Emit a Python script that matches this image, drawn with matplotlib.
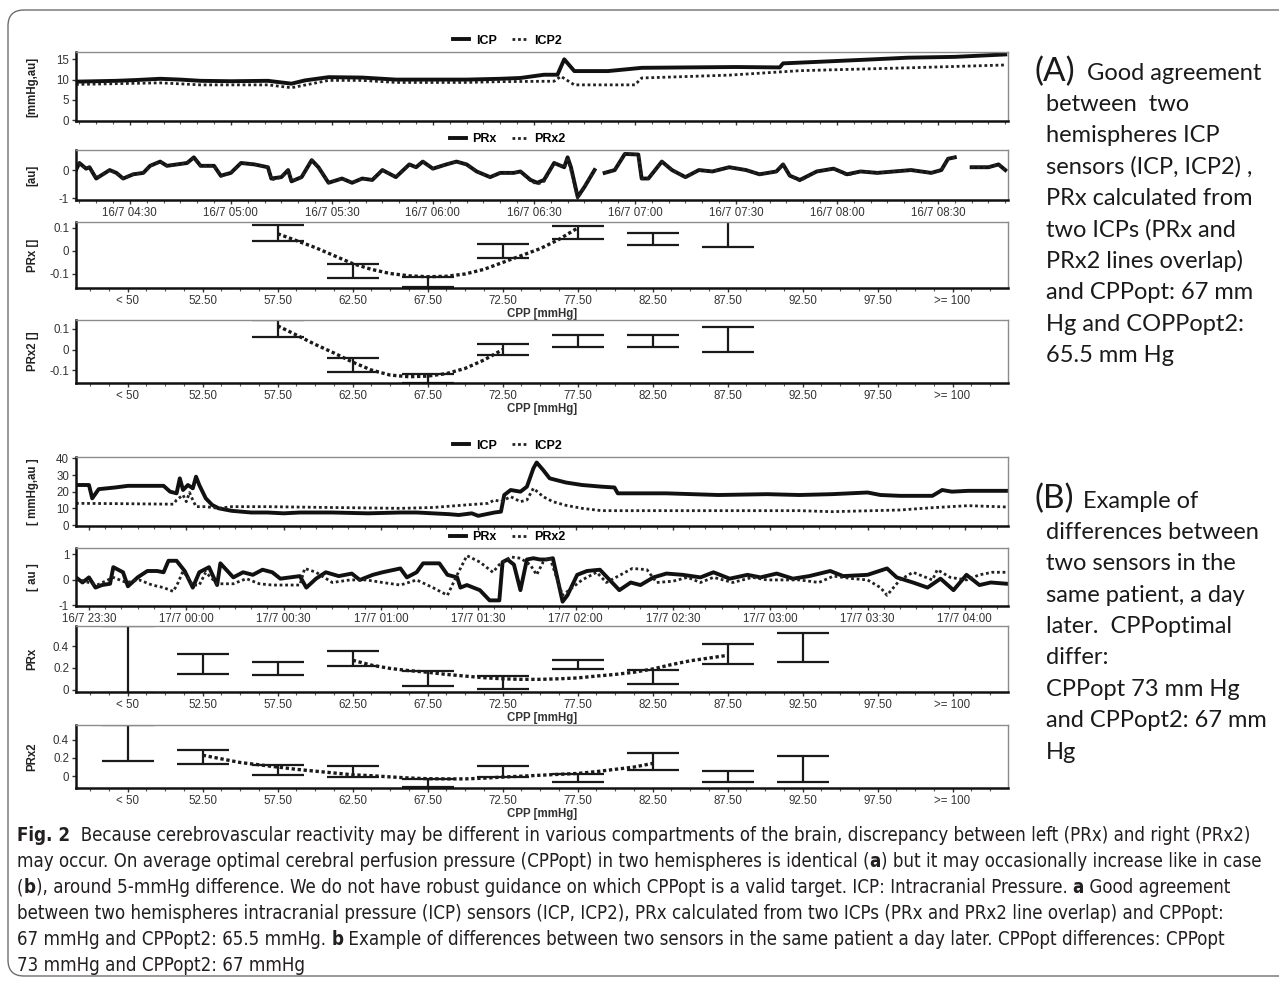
import numpy as np
import matplotlib
import matplotlib.pyplot as plt
from matplotlib import font_manager
from matplotlib.patches import FancyBboxPatch
from matplotlib.transforms import IdentityTransform
from matplotlib.ticker import FixedLocator, MultipleLocator

plt.rcParams['font.family'] = ['Liberation Sans', 'DejaVu Sans']

# ---------------- data (a): time series, minutes after 16/7 04:00 ----------------
icpA_t = [14, 20, 26, 32, 39, 45, 51, 60, 71, 78, 82, 89, 99, 109, 120, 130, 140, 146, 153, 157,
          159, 162, 172, 182, 195, 210, 223, 224, 235, 251, 261, 275, 290]
icpA = [9.5, 9.6, 9.7, 9.9, 10.2, 10.0, 9.7, 9.6, 9.7, 9.0, 9.8, 10.6, 10.5, 10.0, 10.0, 10.0, 10.2,
        10.4, 11.2, 11.2, 15.0, 12.1, 12.1, 12.9, 13.0, 13.1, 13.0, 14.0, 14.4, 15.0, 15.4, 15.6, 16.2]
icp2A_t = [14, 26, 39, 51, 71, 78, 89, 99, 109, 130, 140, 156, 158, 162, 180, 182, 208, 229, 261, 290]
icp2A = [8.8, 9.0, 9.2, 8.7, 8.7, 8.0, 9.8, 9.8, 9.3, 9.3, 9.5, 9.6, 10.8, 8.7, 8.7, 10.4, 11.1, 12.2, 12.9, 13.6]

prxA_t = [14, 15, 17, 18, 20, 22, 24, 26, 28, 31, 34, 36, 39, 41, 44, 47, 49, 51, 55, 57,
          60, 63, 67, 71, 72, 75, 77, 78, 81, 84, 86, 89, 93, 96, 99, 102, 105, 109, 113, 115,
          117, 120, 124, 127, 130, 133, 137, 140, 144, 146, 149, 151, 153, 156, 159, 160, 161, 163, 165, 168,
          169.5, 171, 174, 177, 181, 182, 184, 188, 191, 195, 199, 203, 208, 213, 217, 222, 224, 226, 229, 234,
          239, 243, 247, 252, 257, 262, 268, 271, 273, 275, 277, 280, 285, 288, 290]
prxA = [0.0, 0.25, 0.05, 0.1, -0.3, -0.15, 0.0, -0.1, -0.3, -0.15, -0.1, 0.15, 0.3, 0.15, 0.2, 0.25, 0.45, 0.15, 0.15, -0.2,
        -0.1, 0.25, 0.2, 0.1, -0.3, -0.25, 0.0, -0.4, -0.25, 0.35, 0.1, -0.45, -0.3, -0.45, -0.3, -0.35, 0.0, -0.25, 0.2, 0.1,
        0.3, 0.05, 0.2, 0.3, 0.2, -0.05, -0.25, -0.1, -0.1, -0.05, -0.35, -0.45, -0.35, 0.25, 0.1, 0.45, 0.1, -0.95, -0.6, 0.0,
        np.nan, -0.1, 0.0, 0.57, 0.55, -0.3, -0.3, 0.3, 0.0, -0.25, 0.0, -0.05, 0.1, 0.0, -0.15, -0.05, 0.2, -0.2, -0.35, -0.05,
        0.05, -0.15, -0.05, -0.1, -0.05, 0.0, -0.1, 0.0, 0.4, 0.45, np.nan, 0.1, 0.1, 0.2, 0.0]
prx2A = [0.0, 0.22, 0.05, 0.1, -0.28, -0.15, 0.0, -0.12, -0.3, -0.15, -0.1, 0.15, 0.3, 0.15, 0.2, 0.25, 0.43, 0.15, 0.15, -0.22,
         -0.1, 0.25, 0.2, 0.1, -0.35, -0.25, 0.0, -0.4, -0.25, 0.35, 0.1, -0.45, -0.3, -0.45, -0.3, -0.35, 0.0, -0.25, 0.2, 0.1,
         0.3, 0.05, 0.2, 0.3, 0.2, -0.05, -0.25, -0.1, -0.1, -0.05, -0.38, -0.5, -0.4, 0.25, 0.1, 0.45, 0.0, -1.0, -0.6, 0.0,
         np.nan, -0.1, 0.0, 0.57, 0.55, -0.3, -0.3, 0.3, 0.0, -0.25, 0.0, -0.05, 0.1, 0.0, -0.15, -0.05, 0.2, -0.2, -0.38, -0.05,
         0.05, -0.18, -0.05, -0.1, -0.05, 0.0, -0.1, 0.0, 0.4, 0.45, np.nan, 0.1, 0.1, 0.2, 0.0]
timeA_ticks = [30, 60, 90, 120, 150, 180, 210, 240, 270]
timeA_labels = ['16/7 04:30', '16/7 05:00', '16/7 05:30', '16/7 06:00', '16/7 06:30',
                '16/7 07:00', '16/7 07:30', '16/7 08:00', '16/7 08:30']

# ---------------- data (b): time series, minutes after 16/7 23:00 ----------------
icpB_t = [26, 30, 31, 33, 38, 42, 53, 55, 57, 58, 59, 60.5, 62, 63, 64, 66, 68, 70, 74, 80,
          85, 90, 95, 105, 116, 126, 131, 136, 141, 144, 148, 150, 155, 157, 158, 160, 163, 165, 167, 168,
          170, 172, 177, 182, 188, 192, 193, 198, 208, 224, 239, 249, 259, 270, 274, 280, 290, 293, 296, 301, 313]
icpB = [24, 24, 16, 21.5, 22.5, 23.5, 23.5, 20, 19, 28, 21, 24, 22, 29, 24, 16, 12, 10, 8.5, 7.5,
        7.5, 7, 7.5, 7.5, 7, 7.5, 7.5, 7, 6.5, 6, 7, 5.5, 7.5, 8, 18, 21, 20, 23, 34, 37.5,
        33, 28, 25.5, 24, 23, 22.5, 19, 19, 19, 18, 18.5, 18, 18.5, 19.5, 18, 17.5, 17.5, 21, 20, 20.5, 20.5]
icp2B_t = [26, 40, 55, 56, 57, 59, 60, 61, 62, 63, 66, 70, 74, 85, 105, 126, 136, 146, 153, 155,
           157, 160, 163, 165, 167, 170, 173, 177, 182, 188, 249, 259, 280, 290, 301, 313]
icp2B = [13, 12.8, 12.5, 12.5, 15, 18, 14, 19.5, 15, 11, 11, 10, 11, 11, 10.5, 10, 10.5, 12, 13, 15,
         14, 17, 14, 15, 22, 17, 14, 11.8, 10, 8.6, 8.6, 8, 9, 10.4, 11.6, 10.8]

prxB_t = [26, 28, 30, 32, 34, 36.5, 37.5, 40.5, 42, 45, 48, 51, 53, 54.5, 57, 59.5, 62, 64, 67, 69.5,
          70.5, 74.5, 77.5, 80.5, 83.5, 86.5, 89, 95, 97, 100, 103, 107, 111, 113.5, 117.5, 120.5, 126, 128, 131, 133,
          138, 140.5, 143.5, 144.5, 146.5, 150.5, 153.5, 156.5, 157.5, 159, 161, 163, 165, 167, 169, 171, 173, 176, 177.5, 180.5,
          183.5, 187.5, 190.5, 193.5, 197, 200, 204, 208, 213, 218.5, 222.5, 227.5, 233, 237, 242, 247, 252, 258.5, 262.5, 270,
          276, 279, 284, 288.5, 292.5, 296.5, 298.5, 300.5, 304.5, 308, 313]
prxB = [0.1, -0.1, 0.1, -0.3, -0.2, -0.15, 0.5, 0.3, -0.25, 0.1, 0.35, 0.35, 0.3, 0.75, 0.75, 0.35, -0.3, 0.3, 0.5, -0.2,
        0.65, 0.1, 0.3, 0.2, 0.4, 0.3, 0.05, 0.15, -0.3, 0.05, 0.3, 0.15, 0.25, 0.0, 0.2, 0.3, 0.45, 0.1, 0.3, 0.65,
        0.65, 0.2, 0.1, -0.3, -0.2, -0.4, -0.8, -0.8, 0.7, 0.8, 0.6, -0.4, 0.8, 0.85, 0.8, 0.8, 0.85, -0.85, -0.6, 0.2,
        0.35, 0.4, 0.0, -0.4, -0.1, -0.2, 0.1, 0.25, 0.2, 0.1, 0.3, 0.05, 0.2, 0.1, 0.25, 0.05, 0.15, 0.35, 0.15, 0.2,
        0.45, 0.1, -0.1, -0.3, 0.05, -0.4, -0.1, 0.2, -0.2, -0.1, -0.15]
prx2B_t = [26, 32.5, 37.5, 41.5, 45.5, 49.5, 53, 56, 57.5, 59, 62, 64, 66, 69.5, 74.5, 78.5, 82.5, 86.5, 91, 95,
           96.5, 100, 105, 110.5, 115.5, 120.5, 126, 131, 136, 140.5, 143.5, 146.5, 150.5, 152.5, 154.5, 156.5, 160, 163, 166, 168,
           170, 172, 176, 179, 182, 186.5, 189.5, 197.5, 202, 205, 210, 214.5, 218.5, 222.5, 228.5, 234.5, 239, 249, 255, 259.5,
           265.5, 270, 274, 276, 280, 284, 290, 291.5, 295.5, 300.5, 304.5, 308.5, 313]
prx2B = [0.05, -0.2, 0.1, -0.1, 0.0, -0.2, -0.3, -0.45, -0.1, 0.35, -0.2, -0.2, 0.3, -0.15, -0.15, 0.05, -0.15, -0.2, -0.2, -0.2,
         0.45, 0.3, -0.1, 0.0, 0.0, -0.1, -0.2, 0.0, -0.3, -0.6, 0.2, 0.95, 0.7, 0.5, 0.3, 0.6, 0.9, 0.85, 0.6, 0.2,
         0.7, 0.9, -0.6, -0.3, 0.0, 0.3, -0.1, 0.45, 0.4, -0.1, -0.05, 0.1, -0.1, 0.1, -0.1, 0.1, 0.0, 0.0, -0.1, 0.15,
         0.05, 0.0, -0.3, -0.6, 0.0, 0.3, 0.0, 0.4, 0.1, 0.0, 0.2, 0.3, 0.3]
timeB_ticks = [30, 60, 90, 120, 150, 180, 210, 240, 270, 300]
timeB_labels = ['16/7 23:30', '17/7 00:00', '17/7 00:30', '17/7 01:00', '17/7 01:30',
                '17/7 02:00', '17/7 02:30', '17/7 03:00', '17/7 03:30', '17/7 04:00']

# ---------------- data: CPP bins (error bars) and fitted curves ----------------
cpp_ticks = [47.5, 52.5, 57.5, 62.5, 67.5, 72.5, 77.5, 82.5, 87.5, 92.5, 97.5, 102.5]
cpp_labels = ['< 50', '52.50', '57.50', '62.50', '67.50', '72.50', '77.50', '82.50',
              '87.50', '92.50', '97.50', '>= 100']

binA_cpp = [57.5, 62.5, 67.5, 72.5, 77.5, 82.5, 87.5]
binA1_low = [0.045, -0.117, -0.155, -0.030, 0.050, 0.027, 0.018]
binA1_high = [0.115, -0.057, -0.112, 0.031, 0.109, 0.079, 0.131]
binA2_low = [0.062, -0.109, -0.158, -0.027, 0.013, 0.013, -0.013]
binA2_high = [0.143, -0.042, -0.117, 0.027, 0.068, 0.068, 0.110]

binB_cpp = [47.5, 52.5, 57.5, 62.5, 67.5, 72.5, 77.5, 82.5, 87.5, 92.5]
binB1_low = [-0.03, 0.148, 0.132, 0.215, 0.031, 0.009, 0.191, 0.055, 0.237, 0.255]
binB1_high = [0.58, 0.323, 0.255, 0.354, 0.170, 0.129, 0.271, 0.178, 0.421, 0.517]
binB2_low = [0.169, 0.139, 0.010, -0.010, -0.122, -0.010, -0.066, 0.064, -0.059, -0.059]
binB2_high = [0.566, 0.289, 0.121, 0.113, -0.030, 0.113, 0.020, 0.249, 0.057, 0.219]

fitA1_cpp = [57.5, 58.75, 60, 61.25, 62.5, 63.75, 65, 66.25, 67.5, 68.75, 70, 71.25, 72.5, 73.75, 75, 76.25, 77.5]
fitA1 = [0.075, 0.045, 0.015, -0.02, -0.055, -0.08, -0.098, -0.108, -0.112, -0.11, -0.1, -0.08, -0.05, -0.02,
         0.01, 0.05, 0.1]
fitA2_cpp = [57.5, 58.75, 60, 61.25, 62.5, 63.75, 65, 66.25, 67.5, 68.75, 70, 71.25, 72.5]
fitA2 = [0.114, 0.07, 0.025, -0.016, -0.06, -0.098, -0.122, -0.13, -0.127, -0.115, -0.09, -0.05, 0.0]
fitB1_cpp = [62.5, 63.75, 65, 66.25, 67.5, 68.75, 70, 71.25, 72.5, 73.75, 75, 76.25, 77.5, 78.75, 80, 81.25,
             82.5, 83.75, 85, 86.25, 87.5]
fitB1 = [0.27, 0.225, 0.195, 0.175, 0.16, 0.14, 0.125, 0.11, 0.1, 0.095, 0.095, 0.1, 0.108, 0.125, 0.14, 0.16,
         0.19, 0.23, 0.265, 0.29, 0.315]
fitB2_cpp = [52.5, 53.75, 55, 56.25, 57.5, 58.75, 60, 61.25, 62.5, 63.75, 65, 66.25, 67.5, 68.75, 70, 71.25,
             72.5, 73.75, 75, 76.25, 77.5, 78.75, 80, 81.25, 82.5]
fitB2 = [0.23, 0.19, 0.15, 0.125, 0.1, 0.075, 0.055, 0.035, 0.015, 0.005, -0.008, -0.02, -0.028, -0.03, -0.03,
         -0.022, -0.01, 0.0, 0.01, 0.02, 0.03, 0.05, 0.075, 0.1, 0.14]

# ---------------- texts ----------------
noteA = ['Good agreement', 'between  two', 'hemispheres ICP', 'sensors (ICP, ICP2) ,', 'PRx calculated from',
         'two ICPs (PRx and', 'PRx2 lines overlap)', 'and CPPopt: 67 mm', 'Hg and COPPopt2:', '65.5 mm Hg']
noteB = ['Example of', 'differences between', 'two sensors in the', 'same patient, a day', 'later.  CPPoptimal',
         'differ:', 'CPPopt 73 mm Hg', 'and CPPopt2: 67 mm', 'Hg']
caption = [
    [('Fig. 2', True), ('  Because cerebrovascular reactivity may be different in various compartments of the brain, '
                        'discrepancy between left (PRx) and right (PRx2)', False)],
    [('may occur. On average optimal cerebral perfusion pressure (CPPopt) in two hemispheres is identical (', False),
     ('a', True), (') but it may occasionally increase like in case', False)],
    [('(', False), ('b', True), ('), around 5-mmHg difference. We do not have robust guidance on which CPPopt is a '
                                'valid target. ICP: Intracranial Pressure. ', False), ('a', True),
     (' Good agreement', False)],
    [('between two hemispheres intracranial pressure (ICP) sensors (ICP, ICP2), PRx calculated from two ICPs '
      '(PRx and PRx2 line overlap) and CPPopt:', False)],
    [('67 mmHg and CPPopt2: 65.5 mmHg. ', False), ('b', True),
     (' Example of differences between two sensors in the same patient a day later. CPPopt differences: CPPopt', False)],
    [('73 mmHg and CPPopt2: 67 mmHg', False)],
]

W, H = 1279, 993
fig = plt.figure(figsize=(W / 100, H / 100), dpi=100)
renderer = fig.canvas.get_renderer()

TICKC = '#333333'


def px_axes(top, bottom, left=76, right=1008):
    return fig.add_axes([left / W, 1 - bottom / H, (right - left) / W, (bottom - top) / H])


def style(ax, ylabel, yticks, ylabels):
    for s in ['top', 'right']:
        ax.spines[s].set_color('#8c8c8c')
        ax.spines[s].set_linewidth(1.0)
    for s in ['left', 'bottom']:
        ax.spines[s].set_color('#111111')
        ax.spines[s].set_linewidth(1.8)
    ax.set_yticks(yticks, ylabels)
    ax.tick_params(axis='both', which='major', labelsize=8.3, colors=TICKC, length=3, width=1, pad=2)
    ax.tick_params(axis='x', which='minor', length=2, width=0.8, colors='#555555')
    ax.set_ylabel(ylabel, fontsize=8.3, fontweight='bold', color='#222222')
    ax.yaxis.set_label_coords(-0.04, 0.5)


def legend(ax, names):
    ax.legend(loc='lower center', bbox_to_anchor=(0.463, 1.04), ncol=2, frameon=False,
              prop={'size': 9, 'weight': 'bold'}, handlelength=1.3, handletextpad=0.5,
              columnspacing=1.2, borderaxespad=0.1, borderpad=0.1)


def time_pair(top1, bot1, top2, bot2, t1, v1, t2, v2, pt1, pv1, pt2, pv2, xlim,
              icp_ylim, icp_ticks, icp_lab, icp_ylabel, prx_ylim, prx_ticks, prx_lab, prx_ylabel,
              tticks, tlabels):
    ax = px_axes(top1, bot1)
    ax.plot(t1, v1, color='#111111', lw=2.8, label='ICP', solid_joinstyle='round')
    ax.plot(t2, v2, color='#222222', lw=2.0, ls=(0, (1, 1)), label='ICP2')
    ax.set_xlim(*xlim)
    ax.set_ylim(*icp_ylim)
    style(ax, icp_ylabel, icp_ticks, icp_lab)
    ax.xaxis.set_major_locator(FixedLocator(tticks))
    ax.xaxis.set_minor_locator(MultipleLocator(5))
    ax.tick_params(axis='x', labelbottom=False)
    legend(ax, ['ICP', 'ICP2'])

    ax = px_axes(top2, bot2)
    ax.plot(pt1, pv1, color='#111111', lw=2.8, label='PRx', solid_joinstyle='round')
    ax.plot(pt2, pv2, color='#222222', lw=2.0, ls=(0, (1, 1)), label='PRx2')
    ax.set_xlim(*xlim)
    ax.set_ylim(*prx_ylim)
    style(ax, prx_ylabel, prx_ticks, prx_lab)
    ax.set_xticks(tticks, tlabels)
    ax.xaxis.set_minor_locator(MultipleLocator(5))
    legend(ax, ['PRx', 'PRx2'])


def bin_panel(top, bot, cpp, low, high, fit_x, fit_y, ylim, yticks, ylabels, ylabel):
    ax = px_axes(top, bot)
    low = np.array(low)
    high = np.array(high)
    mid = (low + high) / 2
    ax.errorbar(cpp, mid, yerr=[mid - low, high - mid], fmt='none', ecolor='#1a1a1a',
                elinewidth=1.6, capsize=19, capthick=1.6)
    ax.plot(fit_x, fit_y, color='#1a1a1a', lw=2.4, ls=(0, (1, 0.8)))
    ax.set_xlim(44.05, 106.2)
    ax.set_ylim(*ylim)
    style(ax, ylabel, yticks, ylabels)
    ax.set_xticks(cpp_ticks, cpp_labels)
    ax.xaxis.set_minor_locator(MultipleLocator(1.25))
    ax.set_xlabel('CPP [mmHg]', fontsize=8.3, fontweight='bold', color='#333333', labelpad=1)


# ---- panel (a)
time_pair(52, 121, 150, 200, icpA_t, icpA, icp2A_t, icp2A, prxA_t, prxA, prxA_t, prx2A, (14, 290.8),
          (-0.2, 16.8), [0, 5, 10, 15], ['0', '5', '10', '15'], '[mmHg,au]',
          (-1.06, 0.71), [-1, 0], ['-1', '0'], '[au]', timeA_ticks, timeA_labels)
bin_panel(222, 288, binA_cpp, binA1_low, binA1_high, fitA1_cpp, fitA1, (-0.161, 0.126),
          [-0.1, 0, 0.1], ['-0.1', '0', '0.1'], 'PRx []')
bin_panel(320, 383, binA_cpp, binA2_low, binA2_high, fitA2_cpp, fitA2, (-0.16, 0.142),
          [-0.1, 0, 0.1], ['-0.1', '0', '0.1'], 'PRx2 []')

# ---- panel (b)
time_pair(457, 526, 548, 606, icpB_t, icpB, icp2B_t, icp2B, prxB_t, prxB, prx2B_t, prx2B, (26, 313.3),
          (-0.6, 40.8), [0, 10, 20, 30, 40], ['0', '10', '20', '30', '40'], '[ mmHg,au ]',
          (-1.02, 1.25), [-1, 0, 1], ['-1', '0', '1'], '[ au ]', timeB_ticks, timeB_labels)
bin_panel(626, 692, binB_cpp, binB1_low, binB1_high, fitB1_cpp, fitB1, (-0.021, 0.584),
          [0, 0.2, 0.4], ['0', '0.2', '0.4'], 'PRx')
bin_panel(725, 788, binB_cpp, binB2_low, binB2_high, fitB2_cpp, fitB2, (-0.13, 0.562),
          [0, 0.2, 0.4], ['0', '0.2', '0.4'], 'PRx2')

# ---- side notes
note_font = ['Lato', 'DejaVu Sans']
fig.text(1035 / W, 1 - 72 / H, '(A)', fontsize=24, family=note_font, va='center', ha='left', color='#1a1a1a')
fig.text(1035 / W, 1 - 499 / H, '(B)', fontsize=24, family=note_font, va='center', ha='left', color='#1a1a1a')
for i, line in enumerate(noteA):
    x = 1087 if i == 0 else 1046
    fig.text(x / W, 1 - (73 + 31.4 * i) / H, line, fontsize=17, family=note_font, va='center',
             ha='left', color='#1a1a1a')
for i, line in enumerate(noteB):
    x = 1083 if i == 0 else 1046
    fig.text(x / W, 1 - (501 + 31.4 * i) / H, line, fontsize=17, family=note_font, va='center',
             ha='left', color='#1a1a1a')

# ---- caption
names = {f.name for f in font_manager.fontManager.ttflist}
if 'Liberation Sans Narrow' in names:
    cap_props = dict(family='Liberation Sans Narrow')
else:
    cap_props = dict(family='DejaVu Sans', stretch='condensed')


def text_width(s, size, bold):
    fp = font_manager.FontProperties(size=size, weight='bold' if bold else 'normal', **cap_props)
    w1 = renderer.get_text_width_height_descent(s + '|', fp, ismath=False)[0]
    w0 = renderer.get_text_width_height_descent('|', fp, ismath=False)[0]
    return w1 - w0


ref = sum(text_width(s, 10, b) for s, b in caption[1])
cap_size = 10 * 1250 / ref
cap_y = [841, 867, 893, 919, 945, 971]
for y, pieces in zip(cap_y, caption):
    x = 17
    for s, b in pieces:
        fig.text(x / W, 1 - y / H, s, fontsize=cap_size, fontweight='bold' if b else 'normal',
                 va='baseline', ha='left', color='#231f20', **cap_props)
        x += text_width(s, cap_size, b)

# ---- rounded outer frame
frame = FancyBboxPatch((8, H - 976), 1320, 966, boxstyle='round,pad=0,rounding_size=16',
                       transform=IdentityTransform(), fill=False, edgecolor='#6e6e6e', lw=1.0)
fig.patches.append(frame)

fig.savefig('out.png', dpi=100)
